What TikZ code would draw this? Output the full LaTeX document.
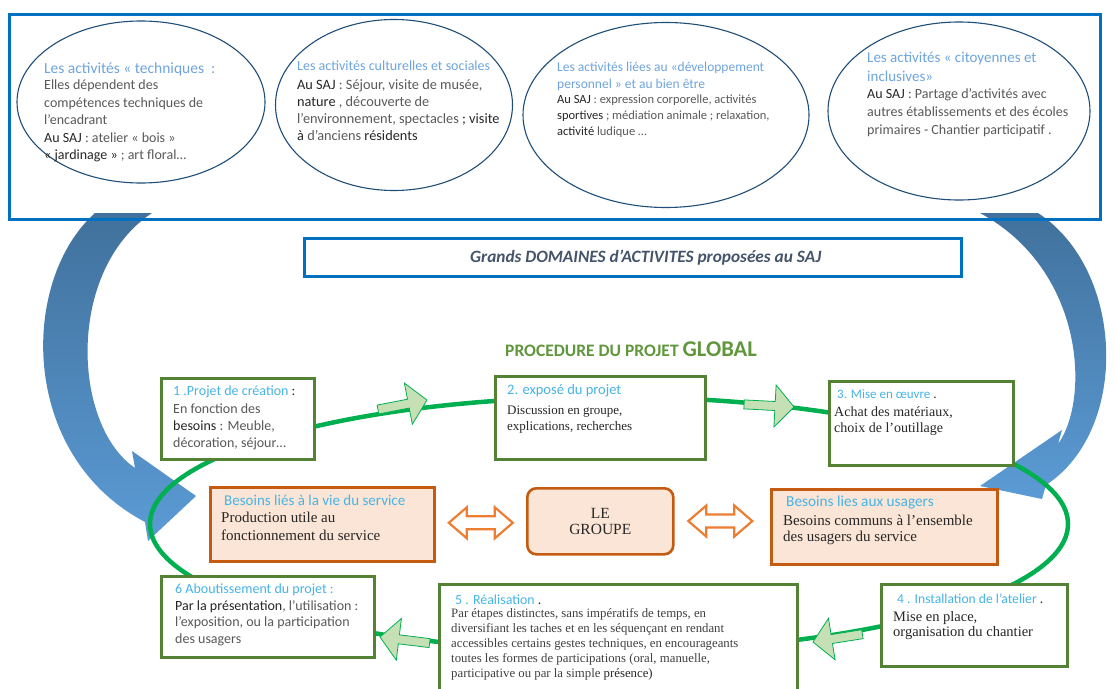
\documentclass[tikz,border=0pt]{standalone}
\usepackage{fontspec}
\setmainfont{Liberation Serif}
\setsansfont{Carlito}
\usetikzlibrary{calc,shapes.geometric}
\definecolor{topblue}{RGB}{0,112,192}
\definecolor{ellblue}{RGB}{31,78,121}
\definecolor{ttlblue}{RGB}{110,165,222}
\definecolor{cyanttl}{RGB}{70,180,230}
\definecolor{gtext}{RGB}{89,89,89}
\definecolor{stext}{RGB}{64,64,64}
\definecolor{dtext}{RGB}{38,38,38}
\definecolor{boxgreen}{RGB}{84,130,53}
\definecolor{loopgreen}{RGB}{0,176,80}
\definecolor{arrfill}{RGB}{197,224,180}
\definecolor{orfill}{RGB}{251,229,214}
\definecolor{ordraw}{RGB}{197,90,17}
\definecolor{orarrow}{RGB}{237,125,49}
\definecolor{procgreen}{RGB}{96,150,60}
\definecolor{bartext}{RGB}{68,84,106}
\definecolor{arrdark}{RGB}{65,113,156}
\definecolor{arrlight}{RGB}{91,155,213}
\begin{document}
\begin{tikzpicture}[x=1pt,y=-1pt,
  txt/.style={inner sep=0pt, align=left, anchor=north west},
  ell/.style={ellipse, draw=ellblue, line width=1.1pt, fill=white, inner sep=0pt},
  gbox/.style={draw=boxgreen, line width=3pt, fill=white, inner sep=0pt, anchor=north west},
  obox/.style={draw=ordraw, line width=2.6pt, fill=orfill, inner sep=0pt, anchor=north west},
  garrow/.pic={\draw[draw=loopgreen, fill=arrfill, line width=0.8pt, line join=miter]
     (0,0) -- (-19,-21) -- (-19,-4.5) -- (-50,-4.5) -- (-50,4.5) -- (-19,4.5) -- (-19,21) -- cycle;},
  darrow/.pic={\draw[draw=orarrow, fill=white, line width=2.2pt, line join=miter]
     (-32,0) -- (-14,-15.5) -- (-14,-6.5) -- (14,-6.5) -- (14,-15.5) -- (32,0) -- (14,15.5) -- (14,6.5) -- (-14,6.5) -- (-14,15.5) -- cycle;}
]
\useasboundingbox (0,0) rectangle (1116,688);
\fill[white] (0,0) rectangle (1116,688);

% big blue curved arrows
\shade[top color=arrdark, bottom color=arrlight]
  (95,213) .. controls (20,280) and (18,455) .. (145,522) -- (148,541) -- (196,496)
  -- (132,451) -- (135,468) .. controls (72,425) and (66,270) .. (152,213) -- cycle;
\shade[top color=arrdark, bottom color=arrlight]
  (1038,213) .. controls (1125,270) and (1130,430) .. (1046,485) -- (1042,499) -- (980,486)
  -- (1062,430) -- (1058,444) .. controls (1090,400) and (1085,270) .. (980,213) -- cycle;

% top frame
\node[draw=topblue, line width=3pt, inner sep=0pt, anchor=north west,
      minimum width=1091pt, minimum height=205pt] (top) at (8,13) {};

% ellipses
\node[ell, minimum width=248pt, minimum height=162pt] (e1) at (141,102) {};
\node[ell, minimum width=237pt, minimum height=171pt] (e2) at (394,105) {};
\node[ell, minimum width=286pt, minimum height=185pt] (e3) at (666,115) {};
\node[ell, minimum width=262pt, minimum height=178pt] (e4) at (959,111) {};

\node[txt, text=ttlblue, font=\sffamily\fontsize{15.5}{18}\selectfont] (e1h) at (44,62.5)
  {Les activités « techniques \ :};
\node[txt, text=gtext, font=\sffamily\fontsize{14}{17.5}\selectfont] (e1t) at (44,80)
  {Elles dépendent des\\compétences techniques de\\l’encadrant\\\textcolor{dtext}{Au SAJ} : atelier « bois »\\\textcolor{dtext}{« jardinage »} ; art floral…};
\node[txt, text=ttlblue, font=\sffamily\fontsize{14}{17}\selectfont] (e2h) at (297,61)
  {Les activités culturelles et sociales};
\node[txt, text=gtext, font=\sffamily\fontsize{14.3}{17}\selectfont] (e2t) at (297,79)
  {\textcolor{dtext}{Au SAJ} : Séjour, visite de musée,\\\textcolor{dtext}{nature} , découverte de\\l’environnement, spectacles \textcolor{dtext}{; visite}\\\textcolor{dtext}{à} d’anciens \textcolor{dtext}{résidents}};
\node[txt, text=ttlblue, font=\sffamily\fontsize{13.5}{17}\selectfont] (e3h) at (557,62)
  {Les activités  liées au «développement\\personnel » et au bien être};
\node[txt, text=gtext, font=\sffamily\fontsize{12.5}{16}\selectfont] (e3t) at (557,95)
  {\textcolor{dtext}{Au SAJ} : expression corporelle, activités\\\textcolor{dtext}{sportives} ; médiation animale ; relaxation,\\\textcolor{dtext}{activité} ludique …};
\node[txt, text=ttlblue, font=\sffamily\fontsize{15}{19}\selectfont] (e4h) at (867,51.5)
  {Les activités « citoyennes et\\inclusives»};
\node[txt, text=gtext, font=\sffamily\fontsize{14}{18}\selectfont] (e4t) at (867,88)
  {\textcolor{dtext}{Au SAJ} : Partage d’activités avec\\autres établissements et des écoles\\primaires - Chantier participatif .};

% title bar
\node[draw=topblue, line width=2.5pt, inner sep=0pt, anchor=north west,
      minimum width=657pt, minimum height=38pt] (bar) at (303,237) {};
\node[text=bartext, font=\sffamily\bfseries\itshape\fontsize{17.3}{19}\selectfont, inner sep=0pt]
  (bart) at ($(bar.center)+(13,0)$) {Grands DOMAINES d’ACTIVITES proposées au SAJ};

% procedure title
\node[anchor=base west, inner sep=0pt, text=procgreen, font=\sffamily\bfseries] (proc) at (505,356)
  {{\fontsize{17.5}{20}\selectfont PROCEDURE DU PROJET }{\fontsize{22.5}{24}\selectfont GLOBAL}};

% green loop
\draw[loopgreen, line width=4.5pt] (609,524) ellipse [x radius=459, y radius=127];

% green block arrows
\pic[rotate=11] at (427,400) {garrow};
\pic[rotate=-3] at (794,407) {garrow};
\pic[rotate=189] at (813,642) {garrow};
\pic[rotate=173] at (380,637) {garrow};

% green boxes
\node[gbox, minimum width=153pt, minimum height=81pt] (b1) at (160,377) {};
\node[gbox, minimum width=210pt, minimum height=83pt] (b2) at (494,375) {};
\node[gbox, minimum width=184pt, minimum height=84pt] (b3) at (828,380) {};
\node[gbox, minimum width=213pt, minimum height=81pt] (b6) at (160,575) {};
\node[gbox, minimum width=358pt, minimum height=120pt] (b5) at (438,583) {};
\node[gbox, minimum width=186pt, minimum height=82pt] (b4) at (880,583) {};

% orange boxes
\node[obox, minimum width=224pt, minimum height=74pt] (ob1) at (209,486) {};
\node[obox, rounded corners=9pt, minimum width=146pt, minimum height=66pt] (grp) at (526,487) {};
\node[obox, minimum width=226pt, minimum height=75pt] (ob2) at (770,488) {};

\pic at ($(ob1.east)!0.5!(grp.west)$) {darrow};
\pic at ($(grp.east)!0.5!(ob2.west)+(-2,-3)$) {darrow};

% texts in boxes
\node[txt, text=gtext, font=\sffamily\fontsize{14}{17.3}\selectfont] (b1t) at (173,386)
  {\textcolor{cyanttl}{1 .Projet de création} \textcolor{dtext}{:}\\En fonction des\\\textcolor{dtext}{besoins} : Meuble,\\décoration, séjour…};
\node[txt, text=cyanttl, font=\sffamily\fontsize{14.5}{16}\selectfont] (b2h) at (507,384) {2. exposé du projet};
\node[txt, text=dtext, font=\fontsize{13}{16}\selectfont] (b2t) at (507,405.5)
  {Discussion en groupe,\\explications, recherches};
\node[txt, text=cyanttl, font=\sffamily\fontsize{13}{16}\selectfont] (b3h) at (837,389.5) {3. Mise en œuvre \textcolor{dtext}{.}};
\node[txt, text=dtext, font=\fontsize{14}{16}\selectfont] (b3t) at (834,407)
  {Achat des matériaux,\\choix de l’outillage};

\node[txt, text=cyanttl, font=\sffamily\fontsize{15}{17}\selectfont] (ob1h) at (224,494.5) {Besoins liés à la vie du service};
\node[txt, text=dtext, font=\fontsize{15}{18}\selectfont] (ob1t) at (221,511.5)
  {Production utile au\\fonctionnement du service};
\node[inner sep=0pt, align=center, text=dtext, font=\fontsize{15.5}{15.5}\selectfont] (grpt) at (grp.center) {LE\\GROUPE};
\node[txt, text=cyanttl, font=\sffamily\fontsize{15.3}{17}\selectfont] (ob2h) at (786,495.5) {Besoins lies aux usagers};
\node[txt, text=dtext, font=\fontsize{15}{16.5}\selectfont] (ob2t) at (783,514.5)
  {Besoins communs à l’ensemble\\des usagers du service};

\node[txt, text=gtext, font=\sffamily\fontsize{14}{16.4}\selectfont] (b6t) at (175,584)
  {\textcolor{cyanttl}{6 Aboutissement du projet :}\\\textcolor{dtext}{Par la présentation}, l’utilisation :\\l’exposition, ou la participation\\des usagers};
\node[txt, text=cyanttl, font=\sffamily\fontsize{13.9}{15}\selectfont] (b5h) at (455,595) {5 . Réalisation \textcolor{dtext}{.}};
\node[txt, text=stext, font=\fontsize{12.8}{15}\selectfont] (b5t) at (451,608.5)
  {Par étapes distinctes, sans impératifs de temps, en\\diversifiant les taches et en les séquençant en rendant\\accessibles certains gestes techniques, en encourageants\\toutes les formes de participations (oral, manuelle,\\participative ou par la simple \textcolor{dtext}{présence)}};
\node[txt, text=cyanttl, font=\sffamily\fontsize{13.6}{15}\selectfont] (b4h) at (897,594) {4 . Installation de l’atelier \textcolor{dtext}{.}};
\node[txt, text=dtext, font=\fontsize{14.5}{15.5}\selectfont] (b4t) at (893,611)
  {Mise en place,\\organisation du chantier};
\end{tikzpicture}
\end{document}
